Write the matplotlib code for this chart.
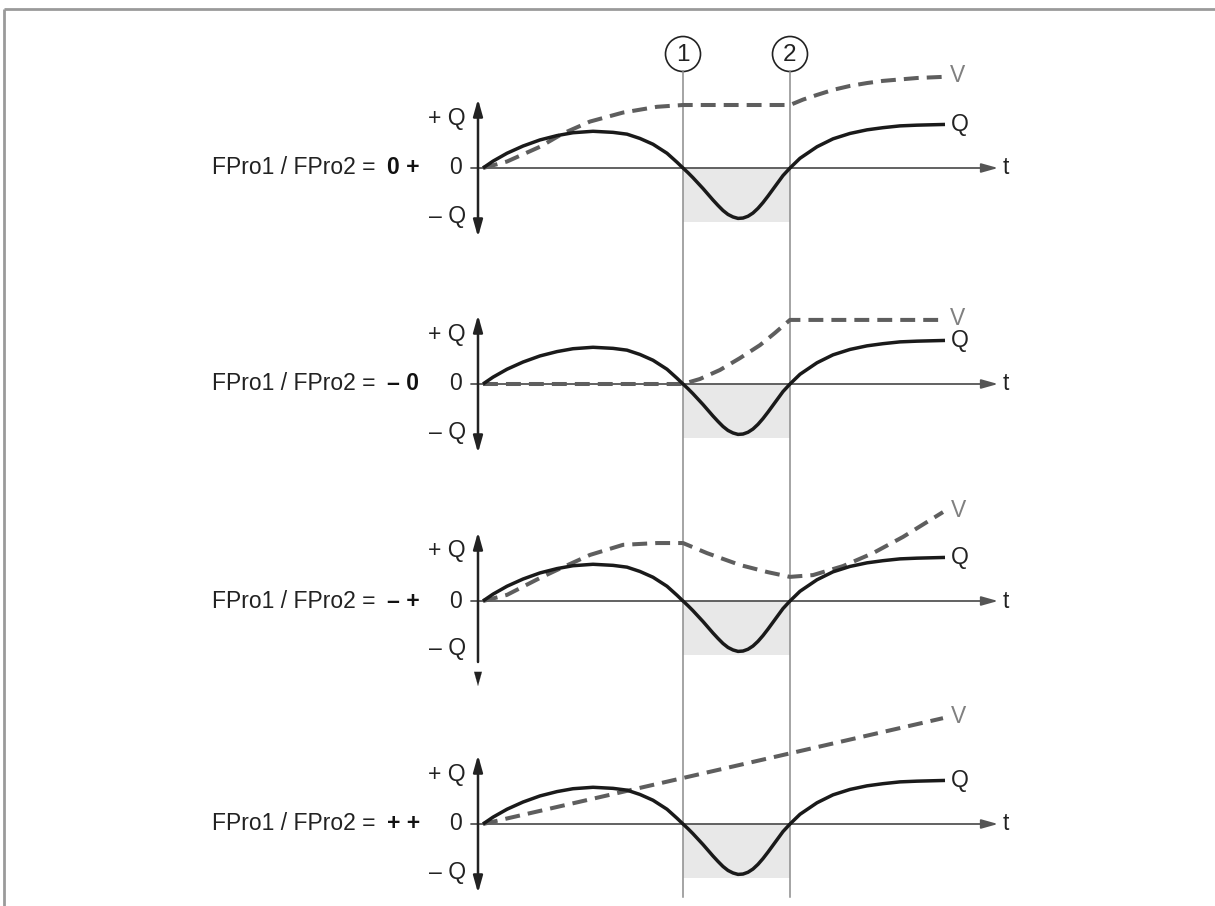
import matplotlib
matplotlib.use('Agg')
import matplotlib.pyplot as plt
import matplotlib.transforms as mtransforms
from matplotlib.patches import Circle, Rectangle, ArrowStyle

# ---------------- data (t in time units, Q/V in amplitude units) ----------------
events_t = [2.0, 3.07]              # event 1 and event 2
event_labels = ["1", "2"]

q_t = [0, 0.10, 0.24, 0.40, 0.57, 0.74, 0.90, 1.10, 1.30, 1.44, 1.57, 1.70, 1.84, 1.94, 2.0,
       2.05, 2.10, 2.15, 2.20, 2.25, 2.30, 2.35, 2.40, 2.45, 2.50, 2.55, 2.60, 2.65, 2.70,
       2.75, 2.80, 2.85, 2.90, 2.95, 3.00, 3.07,
       3.17, 3.34, 3.50, 3.67, 3.84, 4.0, 4.17, 4.34, 4.62]
q_v = [0, 0.19, 0.41, 0.61, 0.78, 0.90, 0.98, 1.02, 0.99, 0.94, 0.82, 0.66, 0.41, 0.16, 0,
       -0.13, -0.27, -0.42, -0.57, -0.73, -0.89, -1.04, -1.18, -1.29, -1.36, -1.40, -1.39, -1.34, -1.25,
       -1.12, -0.96, -0.78, -0.59, -0.40, -0.21, 0,
       0.27, 0.59, 0.81, 0.96, 1.06, 1.12, 1.17, 1.19, 1.21]

v1_t = [0, 0.24, 0.57, 0.80, 1.07, 1.40, 1.74, 2.0, 3.07, 3.20, 3.34, 3.50, 3.67, 3.84, 4.0, 4.34, 4.59]
v1_v = [0, 0.18, 0.59, 0.96, 1.29, 1.54, 1.70, 1.75, 1.75, 1.90, 2.03, 2.17, 2.28, 2.36, 2.42, 2.50, 2.53]

v2_t = [0, 2.0, 2.17, 2.37, 2.57, 2.77, 2.92, 3.07, 4.59]
v2_v = [0, 0, 0.14, 0.39, 0.72, 1.08, 1.42, 1.78, 1.78]

v3_t = [0, 0.24, 0.57, 0.80, 1.07, 1.40, 1.74, 2.0, 2.24, 2.57, 2.85, 3.07, 3.30, 3.60, 3.90, 4.20, 4.60]
v3_v = [0, 0.17, 0.64, 0.94, 1.28, 1.56, 1.61, 1.61, 1.33, 1.0, 0.80, 0.67, 0.72, 0.97, 1.33, 1.78, 2.47]

v4_t = [0, 4.6]
v4_v = [0, 2.94]

panel_values = ["0 +", "– 0", "– +", "+ +"]
panel_v = [(v1_t, v1_v), (v2_t, v2_v), (v3_t, v3_v), (v4_t, v4_v)]

shade_depth = -1.5

# ---------------- layout ----------------
W, H = 1215, 906
X0 = 483          # pixel x of t = 0
TS = 100          # pixels per time unit
QS = 36           # pixels per amplitude unit
bases = [168, 384, 601, 824]

FONT = ['Liberation Sans Narrow', 'Liberation Sans', 'DejaVu Sans']
plt.rcParams['font.family'] = FONT

fig = plt.figure(figsize=(W / 100, H / 100), dpi=100)
ax = fig.add_axes([0, 0, 1, 1])
ax.set_xlim(0, W)
ax.set_ylim(H, 0)
ax.axis('off')

QCOL = '#1a1a1a'
VCOL = '#5e5e5e'
AXCOL = '#222222'
FS = 16.5

# frame
ax.plot([4, W], [9, 9], color='#9a9a9a', lw=2, solid_capstyle='butt')
ax.plot([4, 4], [9, H], color='#9a9a9a', lw=2, solid_capstyle='butt')

# event lines and circles
ev_tr = mtransforms.blended_transform_factory(
    mtransforms.Affine2D().scale(TS, 1).translate(X0, 0) + ax.transData, ax.transData)
for te, lab in zip(events_t, event_labels):
    ax.plot([te, te], [71, 897], color='#8c8c8c', lw=1.1, transform=ev_tr, zorder=3)
    xpx = X0 + te * TS
    ax.add_patch(Circle((xpx, 54), 17.5, fill=False, ec='#222222', lw=1.2))
    ax.text(xpx, 55, lab, ha='center', va='center', fontsize=17.5, color='#222222')

head = ArrowStyle('-|>', head_length=0.5, head_width=0.14)
dhead = ArrowStyle('<|-|>', head_length=0.5, head_width=0.14)

for k, base in enumerate(bases):
    tr = mtransforms.Affine2D().scale(TS, -QS).translate(X0, base) + ax.transData

    # shading between the events
    ax.add_patch(Rectangle((events_t[0], shade_depth), events_t[1] - events_t[0], -shade_depth,
                           fc='#e8e8e8', ec='none', transform=tr, zorder=1))

    # t axis
    ax.annotate('', xy=(5.15, 0), xytext=(-0.12, 0), xycoords=tr, textcoords=tr,
                arrowprops=dict(arrowstyle=head, color='#555555', lw=1.3,
                                shrinkA=0, shrinkB=0, mutation_scale=20), zorder=2)
    ax.text(5.2, 0, 't', transform=tr, ha='left', va='center', fontsize=FS, color='#222222')

    # Q axis
    if k == 2:
        ax.annotate('', xy=(-0.05, 69 / QS), xytext=(-0.05, -61 / QS), xycoords=tr, textcoords=tr,
                    arrowprops=dict(arrowstyle=head, color=AXCOL, lw=1.8,
                                    shrinkA=0, shrinkB=0, mutation_scale=20), zorder=2)
        ax.annotate('', xy=(-0.05, -85 / QS), xytext=(-0.05, -76 / QS), xycoords=tr, textcoords=tr,
                    arrowprops=dict(arrowstyle=head, color=AXCOL, lw=0.1,
                                    shrinkA=0, shrinkB=0, mutation_scale=20), zorder=2)
    else:
        ax.annotate('', xy=(-0.05, 69 / QS), xytext=(-0.05, -69 / QS), xycoords=tr, textcoords=tr,
                    arrowprops=dict(arrowstyle=dhead, color=AXCOL, lw=1.8,
                                    shrinkA=0, shrinkB=0, mutation_scale=20), zorder=2)

    ax.text(466, base - 50, '+ Q', ha='right', va='center', fontsize=FS, color='#222222')
    ax.text(462, base, '0', ha='right', va='center', fontsize=FS, color='#222222')
    ax.text(466, base + 48, '– Q', ha='right', va='center', fontsize=FS, color='#222222')

    ax.text(375, base, 'FPro1 / FPro2 =', ha='right', va='center', fontsize=FS, color='#222222')
    ax.text(387, base, panel_values[k], ha='left', va='center', fontsize=FS,
            fontweight='bold', color='#111111')

    # curves
    vt, vv = panel_v[k]
    ax.plot(vt, vv, color=VCOL, lw=2.9, linestyle=(0, (3.7, 2.0)), transform=tr,
            zorder=4, dash_capstyle='butt', dash_joinstyle='round')
    ax.plot(q_t, q_v, color=QCOL, lw=2.5, transform=tr, zorder=5,
            solid_joinstyle='round', solid_capstyle='butt')

    ax.text(q_t[-1] + 0.06, q_v[-1], 'Q', transform=tr, ha='left', va='center',
            fontsize=FS, color='#222222')
    ax.text(vt[-1] + 0.08, vv[-1] + 0.05, 'V', transform=tr, ha='left', va='center',
            fontsize=FS, color='#808080')

fig.savefig('out.png', dpi=100)
